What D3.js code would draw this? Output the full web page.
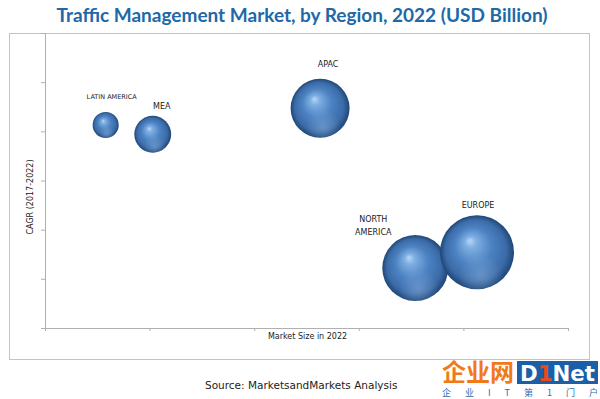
<!DOCTYPE html>
<html>
<head>
<meta charset="utf-8">
<script src="https://cdn.jsdelivr.net/npm/d3@7"></script>
<style>
  body { margin: 0; background: #fff; }
  svg { display: block; }
</style>
</head>
<body>
<svg id="chart" width="600" height="399"></svg>
<script>
// data (axes carry no numbers)
const regions = ["LATIN AMERICA", "MEA", "APAC", "NORTH AMERICA", "EUROPE"];
const marketSize = [0.58, 1.03, 2.63, 3.54, 4.13];   // x
const cagr = [4.13, 3.94, 4.47, 1.22, 1.54];          // y
const bubbleSize = [1.7, 3.4, 8.7, 10.9, 13.7];       // area
const xTicks = [0, 1, 2, 3, 4, 5];
const yTicks = [0, 1, 2, 3, 4, 5, 6];

// label placement relative to bubble centre
const labelPlace = {
    "LATIN AMERICA": {dx: 6, dy: -26, size: 6.5, lines: ["LATIN AMERICA"]},
    "MEA": {dx: 9, dy: -25, size: 8, lines: ["MEA"]},
    "APAC": {dx: 8, dy: -41, size: 8, lines: ["APAC"]},
    "NORTH AMERICA": {dx: -42, dy: -46, size: 8, lines: ["NORTH", "AMERICA"]},
    "EUROPE": {dx: 1, dy: -44, size: 8, lines: ["EUROPE"]}
};

const svg = d3.select("#chart");

var x = d3.scaleLinear().domain([0, 5]).range([45, 568]);
var y = d3.scaleLinear().domain([0, 6]).range([328, 33]);
var r = d3.scaleSqrt().domain([0, d3.max(bubbleSize)]).range([0, 37]);

var data = regions.map((name, i) => ({
    name: name, x: marketSize[i], y: cagr[i], size: bubbleSize[i]
}));

// gradients for the shaded spheres
var defs = svg.append("defs");
var g1 = defs.append("radialGradient").attr("id", "sphere")
    .attr("cx", "50%").attr("cy", "50%").attr("r", "50%")
    .attr("fx", "40%").attr("fy", "34%");
[["0%", "#b8d8f5"], ["16%", "#7eaee2"], ["50%", "#4c82c2"], ["82%", "#3b6ba8"], ["100%", "#1f4677"]]
    .forEach(s => g1.append("stop").attr("offset", s[0]).attr("stop-color", s[1]));
var g2 = defs.append("radialGradient").attr("id", "glow")
    .attr("cx", "55%").attr("cy", "82%").attr("r", "30%");
g2.append("stop").attr("offset", "0%").attr("stop-color", "#9cc0e6").attr("stop-opacity", 0.4);
g2.append("stop").attr("offset", "100%").attr("stop-color", "#9cc0e6").attr("stop-opacity", 0);

// title
svg.append("text")
    .attr("x", 302).attr("y", 22)
    .attr("text-anchor", "middle")
    .style("font-family", "Lato, 'Open Sans', sans-serif")
    .style("font-weight", "bold")
    .style("font-size", "19px")
    .style("fill", "#2068a8")
    .text("Traffic Management Market, by Region, 2022 (USD Billion)");

// outer frame
svg.append("rect")
    .attr("x", 9.5).attr("y", 33.5)
    .attr("width", 580).attr("height", 326)
    .style("fill", "none").style("stroke", "#c4c4c4");

// axes
var xAxis = d3.axisBottom(x).tickValues(xTicks).tickSize(3).tickFormat("");
var yAxis = d3.axisLeft(y).tickValues(yTicks).tickSize(4).tickFormat("");

svg.append("g")
    .attr("class", "x axis")
    .attr("transform", "translate(0," + y(0) + ")")
    .call(xAxis)
    .call(g => g.select(".domain").remove())
    .call(g => g.selectAll("line").style("stroke", "#b0b0b0"));

svg.append("line")
    .attr("x1", x(0) - 4).attr("x2", x(5))
    .attr("y1", y(0) + 0.5).attr("y2", y(0) + 0.5)
    .style("stroke", "#b0b0b0");

svg.append("g")
    .attr("class", "y axis")
    .attr("transform", "translate(" + x(0) + ",0)")
    .call(yAxis)
    .call(g => g.select(".domain").remove())
    .call(g => g.selectAll("line").style("stroke", "#b0b0b0"));

svg.append("line")
    .attr("x1", x(0) + 0.5).attr("x2", x(0) + 0.5)
    .attr("y1", y(6)).attr("y2", y(0) + 3)
    .style("stroke", "#b0b0b0");

// axis titles
svg.append("text")
    .attr("x", (x(0) + x(5)) / 2 + 1).attr("y", 339)
    .attr("text-anchor", "middle")
    .style("font-family", "'DejaVu Sans', sans-serif")
    .style("font-size", "8px")
    .style("fill", "#222")
    .text("Market Size in 2022");

svg.append("text")
    .attr("transform", "translate(33,197) rotate(-90)")
    .attr("text-anchor", "middle")
    .style("font-family", "'DejaVu Sans', sans-serif")
    .style("font-size", "8px")
    .style("fill", "#222")
    .text("CAGR (2017-2022)");

// bubbles
var bubbles = svg.append("g").selectAll("g")
    .data(data).enter()
    .append("g")
    .attr("transform", d => "translate(" + x(d.x) + "," + y(d.y) + ")");

bubbles.append("circle")
    .attr("r", d => r(d.size))
    .style("fill", "url(#sphere)");

bubbles.append("circle")
    .attr("r", d => r(d.size))
    .style("fill", "url(#glow)");

// bubble labels
bubbles.each(function (d) {
    var p = labelPlace[d.name];
    var t = d3.select(this).append("text")
        .attr("text-anchor", "middle")
        .style("font-family", "'DejaVu Sans', sans-serif")
        .style("font-size", p.size + "px")
        .style("fill", "#222");
    p.lines.forEach((l, i) => {
        t.append("tspan")
            .attr("x", p.dx)
            .attr("y", p.dy + i * 13)
            .text(l);
    });
});

// source line
svg.append("text")
    .attr("x", 205).attr("y", 389)
    .style("font-family", "Tahoma, 'DejaVu Sans', sans-serif")
    .style("font-size", "10.5px")
    .style("fill", "#222")
    .text("Source: MarketsandMarkets Analysis");

// watermark logo
var logo = svg.append("g");
logo.append("text")
    .attr("x", 442).attr("y", 381)
    .style("font-family", "'Noto Sans CJK SC', sans-serif")
    .style("font-weight", "bold")
    .style("font-size", "24px")
    .style("fill", "#f07a1a")
    .attr("textLength", 72)
    .text("企业网");
logo.append("rect")
    .attr("x", 517).attr("y", 361)
    .attr("width", 81).attr("height", 23)
    .style("fill", "#1b5fa8");
logo.append("text")
    .attr("x", 520).attr("y", 381)
    .attr("textLength", 75)
    .attr("lengthAdjust", "spacingAndGlyphs")
    .style("font-family", "'DejaVu Sans', sans-serif")
    .style("font-weight", "bold")
    .style("font-size", "21px")
    .style("fill", "#fff")
    .text("D")
    .append("tspan").style("fill", "#e8491d").text("1")
    .append("tspan").style("fill", "#fff").text("Net");
logo.append("text")
    .attr("x", 442).attr("y", 396)
    .attr("textLength", 156)
    .style("font-family", "'Noto Sans CJK SC', sans-serif")
    .style("font-size", "9px")
    .style("fill", "#2a6db5")
    .text("企业IT第1门户");
</script>
</body>
</html>
